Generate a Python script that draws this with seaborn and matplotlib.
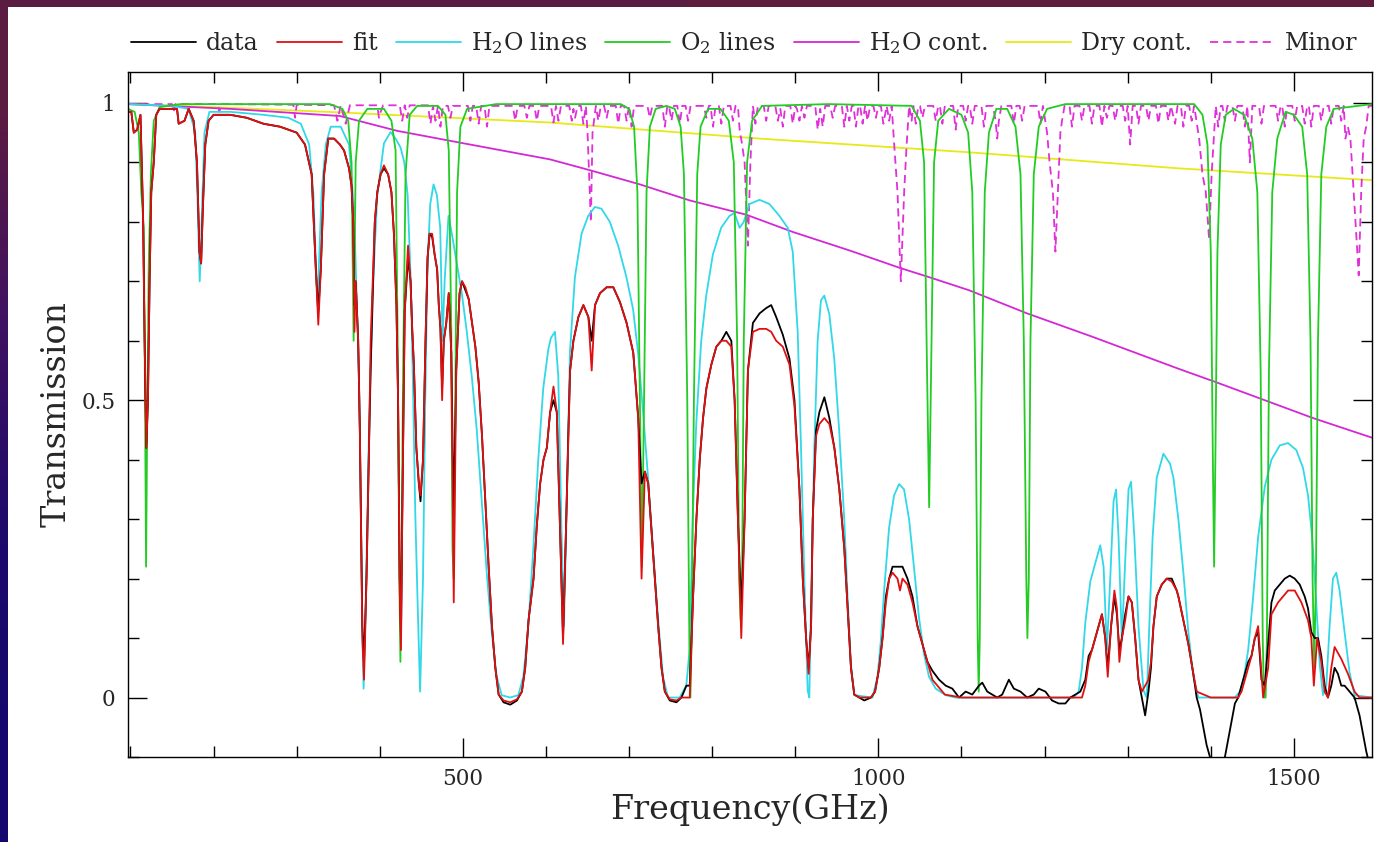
import numpy as np
import pandas as pd
import matplotlib
matplotlib.use("Agg")
import matplotlib.pyplot as plt
import seaborn as sns

# ---------------- values (GHz, transmission) ----------------
data_f = [97,101,104,108,112,115,117,119,121,123,125,128,131,135,150,156,158,165,170,176,180,183,185,187,190,194,200,220,240,260,280,300,310,318,323,326,329,333,338,345,352,
          357,363,366,368,369.5,371,374,376,379,381,384,387,389,392,394,397,401,405,410,414,417,420,422,424,425.5,427,430,434,437,439,441,444,447,449,452,455,457.5,460,463,466,469,471,473,475,477,480,483,486,489,492,496,499,503,507,511,515,519,523,527,531,535,539,543,549,557,565,571,575,579,585,589,593,597,601,
          605,609,613,617,620.5,624,627,629,633,639,645,651,655,659,665,673,681,689,697,705,711,715,719,723,727,731,735,739,743,749,757,763,769,773,777,781,785,789,793,799,805,811,817,823,827,831,835,839,843,849,
          857,865,871,877,885,893,899,905,909,913,916,919,921,925,929,935,941,947,953,959,963,967,971,977,983,991,996,1001,1005,1009,1013,1017,1023,1029,1035,1041,1047,1053,1059,1065,1073,1081,1089,1097,1105,
          1113,1121,1125,1131,1137,1143,1149,1157,1163,1171,1179,1187,1193,1201,1209,1217,1225,1231,1237,1243,1249,1253,1257,1261,1265,1269,1273,1276,1280,1284,1287,1290,1293,1297,1301,1305,1309,1313,1317,1321,1325,1328,1331,1335,1341,1347,1353,
          1359,1361,1367,1373,1379,1383,1387,1391,1395,1399,1405,1413,1417,1421,1425,1429,1433,1437,1441,1445,1449,1453,1457,1461,1465,1469,1473,1477,1483,1489,1495,1501,1507,1513,1517,1521,1525,1529,1533,1537,1541,1545,1549,1553,1557,1561,1567,1573,1579,1583,1587,1592]
data_T = [0.985,0.985,0.95,0.955,0.98,0.82,0.6,0.42,0.5,0.7,0.85,0.9,0.98,0.99,0.99,0.99,0.965,0.97,0.99,0.97,0.9,0.75,0.73,0.82,0.93,0.97,0.98,0.98,0.975,0.965,0.96,0.95,0.93,0.88,0.72,0.65,0.72,0.88,0.94,0.94,0.93,
          0.92,0.89,0.86,0.8,0.66,0.7,0.6,0.45,0.12,0.06,0.2,0.42,0.55,0.7,0.8,0.85,0.88,0.89,0.88,0.85,0.78,0.66,0.5,0.2,0.1,0.3,0.65,0.74,0.7,0.62,0.56,0.42,0.36,0.33,0.4,0.6,0.74,0.78,0.775,0.745,0.72,0.66,0.62,0.52,0.6,0.63,0.68,0.58,0.3,0.55,0.68,0.7,0.685,0.67,0.63,0.59,0.53,0.44,0.33,0.22,0.12,0.05,0.005,-0.008,-0.012,-0.005,0.01,0.05,0.13,0.2,0.29,0.36,0.4,0.42,
          0.48,0.5,0.48,0.28,0.1,0.28,0.45,0.55,0.6,0.64,0.66,0.64,0.6,0.66,0.68,0.69,0.69,0.665,0.63,0.58,0.47,0.36,0.38,0.36,0.28,0.2,0.12,0.05,0.01,-0.005,-0.008,0.0,0.02,0.02,0.17,0.3,0.4,0.47,0.52,0.56,0.59,0.6,0.615,0.6,0.5,0.3,0.15,0.3,0.55,0.63,
          0.646,0.655,0.66,0.64,0.61,0.57,0.5,0.35,0.2,0.1,0.05,0.12,0.3,0.45,0.48,0.505,0.47,0.42,0.35,0.25,0.15,0.05,0.005,0.0,-0.005,0.0,0.01,0.05,0.1,0.17,0.2,0.22,0.22,0.22,0.2,0.17,0.12,0.09,0.06,0.045,0.03,0.02,0.015,0.0,0.01,
          0.005,0.02,0.025,0.01,0.005,0.0,0.005,0.03,0.015,0.01,0.0,0.005,0.015,0.01,-0.005,-0.01,-0.01,0.0,0.005,0.01,0.03,0.07,0.08,0.1,0.12,0.14,0.1,0.05,0.12,0.17,0.14,0.08,0.1,0.14,0.17,0.16,0.1,0.03,0.0,-0.03,0.01,0.05,0.12,0.17,0.19,0.2,0.2,
          0.18,0.17,0.13,0.09,0.04,0.0,-0.02,-0.05,-0.08,-0.1,-0.13,-0.13,-0.1,-0.07,-0.04,-0.01,0.0,0.02,0.04,0.06,0.07,0.1,0.11,0.03,0.02,0.09,0.16,0.18,0.19,0.2,0.205,0.2,0.19,0.17,0.15,0.11,0.1,0.1,0.07,0.02,0.0,0.02,0.05,0.04,0.02,0.02,0.01,0.0,-0.03,-0.06,-0.09,-0.12]

fit_f = [97,101,104,108,112,115,117,119,121,123,125,128,131,135,150,156,158,165,170,176,180,183,185,187,190,194,200,220,240,260,280,300,310,318,323,326,329,333,338,345,352,
         357,363,366,368,369.5,371,374,376,379,381,384,387,389,392,394,397,401,405,410,414,417,420,422,424,425.5,427,430,434,437,439,441,444,447,449,452,455,457.5,460,463,466,469,471,473,475,477,480,483,486,489,492,496,499,503,507,511,515,519,523,527,531,535,539,543,549,557,565,571,575,579,585,589,593,597,601,
         605,609,613,617,620.5,624,627,629,633,639,645,651,655,659,665,673,681,689,697,705,711,715,719,723,727,731,735,739,743,749,757,763,769,773,777,781,785,789,793,799,805,811,817,823,827,831,835,839,843,849,
         857,865,871,877,885,893,899,905,909,913,916,919,921,925,929,935,941,947,953,959,963,967,971,977,983,991,996,1001,1005,1009,1013,1017,1023,1026,1029,1035,1041,1047,1053,1059,1065,1080,1100,1150,1200,1245,
         1249,1253,1257,1261,1265,1269,1273,1276,1280,1284,1287,1290,1293,1297,1301,1305,1309,1313,1317,1321,1325,1328,1331,1335,1341,1347,1353,
         1359,1361,1367,1373,1379,1383,1400,1433,1437,1441,1445,1449,1453,1457,1463,1469,1473,1481,1493,1501,1509,1517,1521,1524,1528,1533,1537,1541,1545,1549,1557,1565,1573,1579,1594]
fit_T = [0.985,0.985,0.95,0.955,0.98,0.82,0.6,0.42,0.5,0.7,0.85,0.9,0.98,0.99,0.99,0.99,0.965,0.97,0.99,0.97,0.9,0.75,0.73,0.82,0.93,0.97,0.98,0.98,0.975,0.965,0.96,0.95,0.93,0.88,0.72,0.627,0.72,0.88,0.94,0.94,0.93,
         0.92,0.89,0.86,0.8,0.615,0.7,0.6,0.45,0.1,0.03,0.2,0.42,0.6,0.72,0.8,0.85,0.88,0.895,0.88,0.85,0.78,0.66,0.5,0.18,0.08,0.3,0.65,0.76,0.7,0.62,0.56,0.42,0.36,0.34,0.4,0.6,0.74,0.78,0.78,0.745,0.72,0.66,0.62,0.5,0.6,0.63,0.68,0.58,0.16,0.55,0.68,0.7,0.69,0.67,0.63,0.59,0.53,0.44,0.33,0.22,0.12,0.05,0.005,-0.005,-0.008,-0.003,0.01,0.05,0.13,0.2,0.29,0.36,0.4,0.42,
         0.48,0.523,0.48,0.28,0.09,0.28,0.45,0.55,0.6,0.64,0.66,0.64,0.55,0.66,0.68,0.69,0.69,0.665,0.63,0.58,0.47,0.2,0.38,0.36,0.28,0.2,0.12,0.05,0.01,-0.003,-0.005,0.0,0.0,0.0,0.17,0.3,0.4,0.47,0.52,0.56,0.59,0.6,0.6,0.59,0.5,0.3,0.1,0.3,0.55,0.615,
         0.62,0.62,0.615,0.6,0.59,0.56,0.49,0.35,0.2,0.1,0.04,0.12,0.3,0.44,0.46,0.47,0.46,0.42,0.35,0.25,0.15,0.05,0.005,0.0,0.0,0.0,0.01,0.05,0.1,0.16,0.2,0.21,0.2,0.18,0.2,0.19,0.16,0.12,0.09,0.06,0.03,0.005,0.0,0.0,0.0,0.0,
         0.02,0.06,0.08,0.1,0.12,0.14,0.1,0.035,0.12,0.18,0.15,0.06,0.1,0.13,0.17,0.16,0.1,0.03,0.01,0.02,0.03,0.06,0.12,0.17,0.19,0.2,0.195,
         0.18,0.17,0.13,0.09,0.04,0.01,0.0,0.0,0.01,0.03,0.05,0.07,0.1,0.12,0.0,0.05,0.14,0.16,0.18,0.18,0.16,0.13,0.1,0.02,0.1,0.06,0.01,0.0,0.05,0.085,0.065,0.04,0.01,0.0,0.0]

h2o_f = [97,150,170,178,181,183.3,186,189,195,220,260,290,305,315,320,325,330,335,341,353,363,369,375,379,380.5,382.5,387,391,397,405,413,419,425,429.5,433.5,437.5,440,442.7,445.5,448.5,452,454.7,457.5,460.7,464.7,468.7,472.7,475.5,478,482.7,486.7,492.7,498.7,504.7,510.7,516.7,522.7,528.7,534.7,540.7,546.7,556.7,566.7,572.7,578.7,584.7,590.7,596.7,602.7,606,610.8,614.8,618.8,621.6,624.8,628.8,634.8,642.8,650.8,658.8,666.8,676.8,686.8,696.8,704.8,710.8,716.8,722.8,728.8,734.8,740.8,746.8,760.8,768.8,772.8,776.8,780.8,786.8,792.8,800.8,810.8,820.8,826.8,833,838,844.9,856.9,868.9,880.9,890.9,896.9,902.9,906.9,910.9,914.9,916.9,918.9,922.9,926.9,930.9,934.9,940.9,946.9,952.9,958.9,962.9,966.9,970.9,992.9,998.9,1002.9,1006.9,1012.9,1018.9,1024.9,1030.9,1036.9,1042.9,1048.9,1054.9,1060.9,1068.9,1080.9,1092.9,1235,1241,1245,1249,1255,1261,1267,1271,1275,1279,1283,1286,1289,1293,1297,1301,1304,1308,1313,1319,1323,1326,1330,1335,1343,1351,1355,1361,1367,1373,1379,1385,1429,1435,1440,1445,1451,1457,1465,1473,1483,1493,1503,1511,1517,1522,1527,1531,1535,1539,1543,1547,1551,1555,1561,1567,1573,1594]
h2o_T = [0.998,0.995,0.99,0.95,0.82,0.70,0.82,0.95,0.985,0.985,0.98,0.975,0.965,0.93,0.85,0.66,0.85,0.93,0.96,0.96,0.93,0.82,0.54,0.12,0.015,0.12,0.45,0.67,0.845,0.932,0.951,0.94,0.925,0.9,0.845,0.69,0.52,0.31,0.16,0.01,0.2,0.5,0.73,0.83,0.863,0.845,0.79,0.6,0.7,0.81,0.78,0.73,0.68,0.615,0.54,0.45,0.33,0.21,0.11,0.035,0.004,0.0,0.004,0.035,0.12,0.25,0.4,0.52,0.585,0.605,0.615,0.54,0.27,0.12,0.31,0.58,0.707,0.78,0.81,0.825,0.822,0.8,0.76,0.707,0.653,0.58,0.48,0.37,0.25,0.134,0.035,0.0,0.0,0.02,0.08,0.31,0.46,0.6,0.676,0.745,0.79,0.81,0.815,0.79,0.8,0.83,0.837,0.83,0.81,0.79,0.75,0.615,0.42,0.2,0.012,0.0,0.157,0.42,0.6,0.668,0.676,0.645,0.57,0.447,0.3,0.17,0.057,0.004,0.0,0.035,0.095,0.18,0.286,0.34,0.359,0.35,0.3,0.218,0.134,0.073,0.035,0.015,0.004,0.0,0.0,0.01,0.05,0.126,0.195,0.226,0.256,0.22,0.08,0.2,0.33,0.35,0.27,0.095,0.23,0.35,0.363,0.27,0.12,0.012,0.0,0.12,0.27,0.37,0.41,0.393,0.37,0.3,0.21,0.11,0.035,0.0,0.0,0.01,0.035,0.08,0.17,0.27,0.355,0.4,0.424,0.428,0.416,0.386,0.34,0.27,0.157,0.057,0.004,0.02,0.12,0.2,0.21,0.18,0.11,0.042,0.004,0.0]

o2_f = [97,105,110,113,116,117.5,118.75,120,122,124.5,128,135,160,340,355,362,366,368.5,371,375,385,405,414,419,421.5,423.5,424.8,426,428,431,436,445,470,479,483,486,487.5,489,490.5,493,497,505,540,690,700,706,710,713,715.4,718,721,725,732,745,755,762,766,770,772.5,773.8,775.2,778,782,786,795,810,820,826,830,832.5,834.2,836,838,842,848,860,940,1040,1050,1055,1058,1061.1,1064,1067,1072,1085,1100,1108,1113,1117,1119.5,1120.7,1122,1124,1128,1133,1142,1155,1165,1171,1175,1178,1179.3,1181,1183,1187,1193,1203,1225,1380,1390,1396,1400,1402.5,1404,1405.5,1408,1412,1418,1428,1440,1450,1456,1460,1462.5,1464,1466,1467.5,1470,1474,1480,1490,1500,1510,1516,1520,1522.5,1524.5,1526.5,1529,1533,1539,1548,1594]
o2_T = [0.99,0.985,0.95,0.85,0.79,0.5,0.22,0.45,0.73,0.88,0.97,0.993,0.998,0.998,0.99,0.97,0.9,0.6,0.9,0.97,0.99,0.99,0.97,0.92,0.6,0.2,0.06,0.2,0.54,0.88,0.98,0.995,0.995,0.98,0.92,0.62,0.25,0.2,0.45,0.85,0.96,0.99,0.998,0.998,0.99,0.96,0.85,0.5,0.22,0.5,0.85,0.96,0.99,0.995,0.99,0.96,0.88,0.5,0.1,0.0,0.1,0.5,0.88,0.96,0.99,0.99,0.97,0.9,0.6,0.2,0.13,0.2,0.6,0.9,0.97,0.995,0.998,0.995,0.97,0.9,0.6,0.32,0.6,0.9,0.97,0.99,0.98,0.95,0.85,0.5,0.1,0.01,0.1,0.5,0.85,0.95,0.99,0.99,0.96,0.88,0.6,0.2,0.1,0.2,0.6,0.88,0.96,0.99,0.998,0.998,0.98,0.93,0.75,0.4,0.22,0.4,0.75,0.93,0.98,0.99,0.98,0.94,0.85,0.55,0.1,0.0,0.0,0.1,0.55,0.85,0.94,0.985,0.98,0.96,0.88,0.6,0.2,0.05,0.2,0.6,0.88,0.96,0.99,0.998]

h2ocont_f = [97,220,352,421,501,605,655,713,773,841,897,965,1027,1061,1109,1179,1257,1361,1405,1465,1523,1594]
h2ocont_T = [0.998,0.99,0.978,0.953,0.932,0.905,0.886,0.863,0.836,0.812,0.783,0.752,0.722,0.707,0.685,0.646,0.607,0.553,0.531,0.5,0.47,0.437]

dry_f = [97,200,353,605,857,1109,1361,1594]
dry_T = [0.998,0.993,0.984,0.967,0.94,0.917,0.89,0.87]

# minor species: (frequency, transmission) pairs
minor_pts = [
    (97,.998),(150,.998),(152,.985),(154,.998),(205,.998),(207,.985),(209,.998),(296,.997),(298,.975),(300,.997),
    (345,.996),(349,.97),(353,.996),(359,.965),(364,.996),(397,.996),(399,.975),(401,.985),(404,.996),(424,.996),
    (427,.97),(430,.996),(433,.975),(436,.996),(458,.996),(461,.965),(464,.995),(467,.97),(470,.995),(473,.96),
    (476,.995),(482,.995),(485,.975),(488,.995),(506,.995),(509,.97),(512,.995),(516,.995),(519,.965),(522,.995),
    (526,.995),(529,.96),(532,.995),(560,.995),(563,.97),(566,.995),(574,.995),(577,.975),(580,.995),(586,.995),
    (589,.97),(592,.995),
    (606,.995),(609,.967),(612,.995),(615,.97),(618,.995),(628,.995),(631,.97),(633,.99),(635,.975),(638,.995),
    (642,.995),(645,.965),(648,.995),(650,.95),(654,.80),(656,.95),(660,.995),(663,.97),(666,.995),(670,.995),
    (673,.975),(676,.995),(684,.995),(687,.965),(690,.995),(694,.995),(697,.97),(700,.995),(703,.96),(706,.995),
    (722,.995),(725,.975),(728,.995),(740,.995),(743,.96),(746,.995),(748,.995),(751,.97),(754,.995),(758,.995),
    (761,.965),(764,.995),(768,.995),(771,.97),(774,.995),(790,.995),(793,.975),(796,.995),(798,.995),(801,.96),
    (804,.995),(808,.995),(811,.965),(814,.995),(822,.995),(825,.97),(828,.995),(831,.995),(833,.955),(836,.93),
    (839,.9),(843,.76),(846,.9),(849,.995),(852,.965),(855,.995),
    (862,.995),(865,.97),(868,.995),(876,.995),(879,.97),(882,.99),(885,.96),(888,.995),(894,.995),(897,.965),
    (900,.995),(902,.99),(905,.97),(908,.995),(911,.975),(914,.995),(924,.995),(927,.955),(930,.99),(933,.96),
    (936,.995),(942,.995),(945,.975),(948,.995),(956,.995),(959,.96),(962,.995),(965,.97),(968,.995),(970,.995),
    (973,.96),(976,.995),(978,.995),(981,.965),(984,.995),(987,.97),(990,.995),(994,.995),(997,.975),(1000,.995),
    (1003,.995),(1006,.965),(1010,.995),(1013,.97),(1016,.995),(1019,.93),(1023,.85),(1027,.70),(1031,.85),(1034,.93),
    (1037,.995),(1040,.97),(1042,.995),(1045,.965),(1048,.995),(1050,.995),(1053,.975),(1056,.995),(1066,.995),(1069,.97),
    (1072,.995),(1074,.995),(1077,.965),(1080,.995),(1090,.995),(1093,.955),(1096,.995),
    (1102,.995),(1105,.97),(1108,.995),(1110,.995),(1113,.965),(1116,.995),(1124,.995),(1127,.96),(1130,.995),(1138,.995),
    (1141,.97),(1143,.94),(1145,.97),(1148,.995),(1160,.995),(1163,.965),(1166,.995),(1170,.995),(1173,.97),(1176,.995),
    (1192,.995),(1195,.965),(1198,.995),(1203,.95),(1206,.9),(1210,.85),(1213,.75),(1216,.85),(1219,.95),(1221,.97),
    (1224,.995),(1230,.995),(1233,.96),(1236,.995),(1242,.995),(1245,.97),(1248,.995),(1254,.995),(1257,.965),(1260,.995),
    (1266,.995),(1269,.96),(1272,.995),(1275,.975),(1278,.995),(1282,.995),(1285,.97),(1288,.995),(1294,.995),(1297,.97),
    (1300,.995),(1303,.93),(1306,.995),(1310,.995),(1313,.965),(1316,.995),(1322,.995),(1325,.97),(1328,.995),(1334,.995),
    (1337,.965),(1340,.995),(1346,.995),(1349,.97),(1352,.995),
    (1357,.965),(1360,.995),(1364,.995),(1367,.96),(1370,.995),(1374,.995),(1377,.97),(1380,.995),(1386,.94),(1390,.88),
    (1394,.85),(1398,.77),(1401,.88),(1406,.995),(1409,.96),(1412,.995),(1414,.995),(1417,.97),(1420,.995),(1426,.995),
    (1429,.97),(1432,.995),(1438,.995),(1441,.96),(1444,.995),(1447,.9),(1450,.995),(1458,.995),(1461,.965),(1464,.995),
    (1478,.995),(1481,.97),(1484,.995),(1486,.995),(1489,.96),(1492,.995),(1498,.995),(1501,.97),(1504,.995),(1510,.995),
    (1513,.965),(1516,.995),(1518,.995),(1521,.96),(1524,.995),(1530,.995),(1533,.97),(1536,.995),(1542,.995),(1545,.965),
    (1548,.995),(1554,.995),(1557,.97),(1560,.995),(1562,.94),(1565,.96),(1568,.94),(1572,.85),(1575,.78),(1578,.71),
    (1581,.85),(1584,.94),(1587,.96),(1590,.995),(1594,.995),
]
minor_f = [p[0] for p in minor_pts]
minor_T = [p[1] for p in minor_pts]

x_ticks_major = [500, 1000, 1500]
x_tick_labels = ["500", "1000", "1500"]
y_ticks_major = [0, 0.5, 1]
y_tick_labels = ["0", "0.5", "1"]

# ---------------- figure ----------------
sns.set_theme(style="ticks")
plt.rcParams["font.family"] = ["DejaVu Serif"]
plt.rcParams["mathtext.fontset"] = "dejavuserif"

W, H = 1374, 842
fig = plt.figure(figsize=(W / 100, H / 100), dpi=100, facecolor="white")

# slide border
top_ax = fig.add_axes([0, 1 - 7 / H, 1, 7 / H])
top_ax.imshow(np.array([[[0.36, 0.11, 0.26], [0.38, 0.11, 0.25]]]), aspect="auto", extent=[0, 1, 0, 1])
top_ax.set_axis_off()
left_ax = fig.add_axes([0, 0, 8 / W, 1 - 7 / H])
grad = np.array([[[0.36, 0.11, 0.26]], [[0.25, 0.07, 0.38]], [[0.12, 0.04, 0.42]], [[0.08, 0.03, 0.43]]])
left_ax.imshow(grad, aspect="auto", extent=[0, 1, 0, 1], interpolation="bilinear")
left_ax.set_axis_off()

ax_w = (1372 - 128)
ax_h = (757 - 72)
ax = fig.add_axes([128 / W, 1 - 757 / H, ax_w / W, ax_h / H])
ax.set_facecolor("white")

lw = 1.3
series = [
    (dry_f, dry_T, "#e8e81a", "-", "Dry cont."),
    (h2ocont_f, h2ocont_T, "#d428d4", "-", "H$_2$O cont."),
    (minor_f, minor_T, "#e030d8", "--", "Minor"),
    (h2o_f, h2o_T, "#30d8e8", "-", "H$_2$O lines"),
    (o2_f, o2_T, "#22cc22", "-", "O$_2$ lines"),
    (data_f, data_T, "#000000", "-", "data"),
    (fit_f, fit_T, "#e01010", "-", "fit"),
]
handles = {}
for fx, ty, col, ls, name in series:
    df = pd.DataFrame({"f": fx, "T": ty})
    sns.lineplot(data=df, x="f", y="T", ax=ax, color=col, linewidth=lw, estimator=None,
                 sort=False, linestyle=ls, label=name)
    line = ax.get_lines()[-1]
    if ls == "--":
        line.set_dashes((4.5, 2.8))
    handles[name] = line

ax.set_xlim(97, 1594)
ax.set_ylim(-0.1, 1.052)

ax.set_xticks(x_ticks_major)
ax.set_xticklabels(x_tick_labels)
ax.set_xticks(np.arange(100, 1600, 100), minor=True)
ax.set_yticks(y_ticks_major)
ax.set_yticklabels(y_tick_labels)
ax.set_yticks(np.arange(-0.1, 1.05, 0.1), minor=True)
ax.tick_params(which="both", direction="in", top=True, right=True, color="black", width=1.0)
ax.tick_params(which="major", length=14, labelsize=15.5)
ax.tick_params(axis="y", which="major", pad=9)
ax.tick_params(axis="x", which="major", pad=8)
ax.tick_params(which="minor", length=8)
for s in ax.spines.values():
    s.set_color("black")
    s.set_linewidth(1.0)

ax.set_xlabel("Frequency(GHz)", fontsize=24, labelpad=2)
ax.set_ylabel("Transmission", fontsize=24, labelpad=6)

order = ["data", "fit", "H$_2$O lines", "O$_2$ lines", "H$_2$O cont.", "Dry cont.", "Minor"]
ax.legend([handles[k] for k in order], order, loc="center left",
          bbox_to_anchor=(3 / ax_w, 1 + 29 / ax_h),
          ncol=7, frameon=False, fontsize=17, handlelength=2.75, handletextpad=0.42,
          columnspacing=0.78, borderaxespad=0.0, borderpad=0.0)

fig.savefig("out.png", dpi=100, facecolor="white")
